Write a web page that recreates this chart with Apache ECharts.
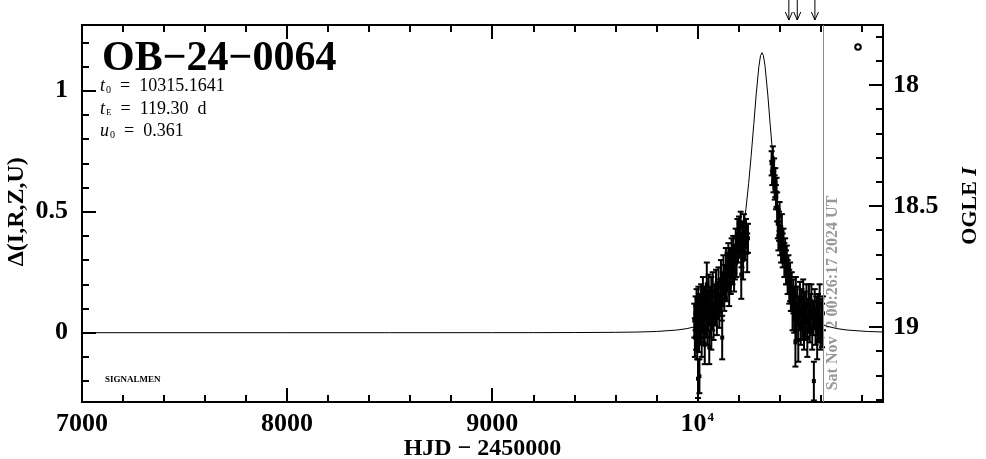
<!DOCTYPE html>
<html><head><meta charset="utf-8">
<script src="https://cdn.jsdelivr.net/npm/echarts@6/dist/echarts.min.js"></script>
<style>html,body{margin:0;padding:0;background:#fff}#c{width:986px;height:459px}</style>
</head><body><div id="c"></div>
<script>
// ---- data ----
const modelT = [7000, 8000, 8500, 9000, 9200, 9400, 9600, 9700, 9800, 9900, 9950, 10000, 10050, 10100, 10150, 10175, 10200, 10225, 10237, 10250, 10262, 10275, 10287, 10300, 10308, 10315, 10322, 10330, 10343, 10355, 10368, 10380, 10393, 10405, 10430, 10455, 10480, 10530, 10580, 10630, 10680, 10730, 10830, 10905];
const modelD = [0, 0, 0.00004, 0.00015, 0.0003, 0.0006, 0.0015, 0.0026, 0.005, 0.011, 0.017, 0.027, 0.045, 0.081, 0.152, 0.213, 0.303, 0.432, 0.513, 0.617, 0.728, 0.861, 0.987, 1.101, 1.145, 1.157, 1.145, 1.101, 0.987, 0.861, 0.728, 0.617, 0.513, 0.432, 0.303, 0.213, 0.152, 0.081, 0.045, 0.027, 0.017, 0.011, 0.005, 0.003];

const obsT = [9985, 9988, 9991, 9994, 9996, 9999, 10001, 10003, 10005, 10008, 10010, 10012, 10015, 10018, 10021, 10024, 10027, 10030, 10033, 10036, 10040, 10043, 10046, 10049, 10052, 10055, 10058, 10061, 10064, 10068, 10072, 10075, 10079, 10083, 10087, 10091, 10095, 10099, 10103, 10107, 10111, 10115, 10119, 10121, 10123, 10127, 10131, 10135, 10139, 10143, 10147, 10151, 10155, 10159, 10163, 10167, 10171, 10175, 10179, 10183, 10187, 10191, 10195, 10199, 10203, 10207, 10211, 10214, 10215, 10219, 10223, 10227, 10232, 10237, 10243, 10247,
  10362, 10365, 10368, 10371, 10374, 10377, 10380, 10383, 10386, 10389, 10392, 10395, 10398, 10401, 10404, 10408, 10412, 10416, 10420, 10424, 10428, 10432, 10436, 10440, 10444, 10448, 10452, 10456, 10460, 10464, 10468, 10472, 10476, 10478, 10480, 10484, 10488, 10492, 10496, 10500, 10504, 10508, 10512, 10516, 10520, 10524, 10528, 10532, 10536, 10540, 10544, 10548, 10552, 10556, 10560, 10564, 10568, 10572, 10576, 10580, 10584, 10588, 10592, 10596, 10600, 10604, 10608, 10612];
const obsD = [0.05, -0.02, 0.08, 0.02, 0.10, -0.04, 0.06, -0.19, 0.12, 0.00, -0.18, 0.09, 0.04, 0.13, -0.02, 0.07, 0.15, 0.03, 0.10, -0.05, 0.12, 0.06, 0.20, 0.02, 0.09, 0.17, -0.06, 0.11, 0.05, 0.08, 0.08, 0.17, 0.04, 0.12, 0.10, 0.18, 0.06, 0.14, 0.19, 0.09, 0.15, 0.22, 0.12, -0.02, 0.18, 0.24, 0.16, 0.21, 0.27, 0.20, 0.25, 0.30, 0.19, 0.28, 0.23, 0.31, 0.27, 0.33, 0.25, 0.29, 0.36, 0.31, 0.40, 0.35, 0.42, 0.38, 0.44, 0.24, 0.34, 0.40, 0.30, 0.43, 0.37, 0.41, 0.33, 0.39,
  0.70, 0.66, 0.72, 0.63, 0.67, 0.60, 0.62, 0.56, 0.58, 0.52, 0.45, 0.40, 0.44, 0.48, 0.38, 0.36, 0.42, 0.34, 0.36, 0.30, 0.31, 0.27, 0.28, 0.23, 0.24, 0.19, 0.21, 0.16, 0.17, 0.10, 0.15, 0.08, 0.12, -0.04, 0.15, 0.04, 0.11, -0.03, 0.08, 0.13, 0.02, 0.10, 0.06, 0.14, 0.00, 0.09, 0.04, 0.12, -0.02, 0.07, 0.11, 0.03, 0.08, 0.13, 0.01, 0.06, -0.20, 0.10, 0.02, 0.07, -0.03, 0.09, 0.04, 0.11, 0.00, 0.06, 0.03, 0.08];
const obsE = [0.07, 0.08, 0.07, 0.09, 0.08, 0.07, 0.08, 0.08, 0.07, 0.08, 0.07, 0.07, 0.09, 0.07, 0.08, 0.07, 0.08, 0.07, 0.09, 0.08, 0.07, 0.08, 0.09, 0.07, 0.08, 0.07, 0.07, 0.08, 0.07, 0.15, 0.07, 0.08, 0.07, 0.08, 0.07, 0.08, 0.07, 0.07, 0.08, 0.07, 0.07, 0.08, 0.07, 0.09, 0.07, 0.08, 0.07, 0.07, 0.08, 0.07, 0.08, 0.07, 0.08, 0.07, 0.07, 0.08, 0.07, 0.07, 0.08, 0.07, 0.07, 0.08, 0.07, 0.06, 0.06, 0.07, 0.06, 0.10, 0.07, 0.06, 0.08, 0.06, 0.07, 0.06, 0.08, 0.06,
  0.05, 0.05, 0.05, 0.05, 0.05, 0.05, 0.06, 0.05, 0.06, 0.06, 0.06, 0.06, 0.06, 0.06, 0.06, 0.07, 0.07, 0.07, 0.07, 0.07, 0.08, 0.07, 0.08, 0.07, 0.08, 0.07, 0.08, 0.07, 0.08, 0.09, 0.07, 0.08, 0.07, 0.10, 0.08, 0.07, 0.08, 0.09, 0.07, 0.08, 0.07, 0.08, 0.09, 0.08, 0.07, 0.08, 0.07, 0.08, 0.08, 0.07, 0.09, 0.07, 0.08, 0.07, 0.08, 0.07, 0.08, 0.08, 0.07, 0.08, 0.08, 0.07, 0.08, 0.09, 0.07, 0.08, 0.09, 0.07];

const arrowT = [10446, 10487, 10573];
const nowT = 10616;
const xMajorLabels = { 7000: '7000', 8000: '8000', 9000: '9000', 10000: '{a|10}{s|4}' };
const leftLabels = { 0: '0', 0.5: '0.5', 1: '1' };
const rightLabels = { 18: '18', 18.5: '18.5', 19: '19' };

// ---- layout ----
const GL = 82, GT = 25, GW = 801, GH = 377;
const Y0 = 332.7, S = 242, I0 = 19.024;
const dMax = (Y0 - GT) / S, dMin = (Y0 - (GT + GH)) / S;
const FONT = '"Liberation Serif", "Times New Roman", serif';
const lab = { fontFamily: FONT, fontWeight: 'bold', fontSize: 26, color: '#000' };

function tickAxis(extra) {
  return Object.assign({
    type: 'value', axisLine: { show: false, onZero: false }, splitLine: { show: false },
    axisTick: { show: true, inside: true, length: 7, lineStyle: { color: '#000', width: 2 } },
    axisLabel: { show: false }, nameMoveOverlap: false
  }, extra);
}
const hidden = (gi) => ({ type: 'value', gridIndex: gi, show: false, min: 0, max: 1, axisLine: { onZero: false } });
const G = (o) => Object.assign({ left: GL, width: GW, containLabel: false, outerBoundsMode: 'none' }, o);

const chart = echarts.init(document.getElementById('c'), null, { renderer: 'canvas' });
const option = {
  animation: false,
  backgroundColor: '#fff',
  grid: [
    G({ top: GT, height: GH, show: true, borderColor: '#000', borderWidth: 2, backgroundColor: 'transparent' }),
    G({ top: Y0 - 1.2 * S, height: 1.4 * S }),
    G({ top: Y0 - 1.0 * S, height: 1.0 * S }),
    G({ top: Y0 - (I0 - 17.8) * S, height: 1.5 * S }),
    G({ top: Y0 - (I0 - 18) * S, height: 1.0 * S }),
    G({ top: 0, height: 20 })
  ],
  xAxis: [
    tickAxis({ gridIndex: 0, position: 'bottom', min: 7000, max: 10905, interval: 1000,
      axisTick: { show: true, inside: true, length: 14, lineStyle: { color: '#000', width: 2 } },
      name: 'HJD − 2450000', nameLocation: 'middle', nameGap: 35,
      nameTextStyle: Object.assign({}, lab, { fontSize: 24 }),
      axisLabel: { show: true, margin: 9, fontFamily: FONT, fontWeight: 'bold', fontSize: 26, color: '#000',
        formatter: v => xMajorLabels[v] || '',
        rich: { a: { fontFamily: FONT, fontWeight: 'bold', fontSize: 26, color: '#000' },
                s: { fontFamily: FONT, fontWeight: 'bold', fontSize: 13, color: '#000', padding: [0, 0, 12, 1] } } } }),
    tickAxis({ gridIndex: 0, position: 'bottom', min: 7000, max: 10905, interval: 200 }),
    tickAxis({ gridIndex: 0, position: 'top', min: 7000, max: 10905, interval: 1000,
      axisTick: { show: true, inside: true, length: 14, lineStyle: { color: '#000', width: 2 } } }),
    tickAxis({ gridIndex: 0, position: 'top', min: 7000, max: 10905, interval: 200 }),
    hidden(1), hidden(2), hidden(3), hidden(4),
    { type: 'value', gridIndex: 5, show: false, min: 7000, max: 10905, axisLine: { onZero: false } }
  ],
  yAxis: [
    { type: 'value', gridIndex: 0, min: dMin, max: dMax, show: false, axisLine: { onZero: false } },
    tickAxis({ gridIndex: 1, position: 'left', min: -0.2, max: 1.2, interval: 0.1 }),
    tickAxis({ gridIndex: 2, position: 'left', min: 0, max: 1, interval: 0.5,
      axisTick: { show: true, inside: true, length: 14, lineStyle: { color: '#000', width: 2 } },
      name: 'Δ(I,R,Z,U)', nameLocation: 'middle', nameRotate: 90, nameGap: 53,
      nameTextStyle: Object.assign({}, lab, { fontSize: 24 }),
      axisLabel: Object.assign({ show: true, margin: 14, formatter: v => leftLabels[v] !== undefined ? leftLabels[v] : '' }, lab) }),
    tickAxis({ gridIndex: 3, position: 'right', inverse: true, min: 17.8, max: 19.3, interval: 0.1 }),
    tickAxis({ gridIndex: 4, position: 'right', inverse: true, min: 18, max: 19, interval: 0.5,
      axisTick: { show: true, inside: true, length: 14, lineStyle: { color: '#000', width: 2 } },
      name: 'OGLE {i|I}', nameLocation: 'middle', nameRotate: 90, nameGap: 76,
      nameTextStyle: Object.assign({}, lab, { fontSize: 22, rich: { i: Object.assign({}, lab, { fontSize: 22, fontStyle: 'italic' }) } }),
      axisLabel: Object.assign({ show: true, margin: 10, formatter: v => rightLabels[v] !== undefined ? rightLabels[v] : '' }, lab) }),
    { type: 'value', gridIndex: 5, show: false, min: 0, max: 1, axisLine: { onZero: false } }
  ],
  series: [
    {
      type: 'line', xAxisIndex: 0, yAxisIndex: 0, showSymbol: false, symbol: 'none', silent: true,
      lineStyle: { color: '#000', width: 1 }, clip: true,
      data: modelT.map((t, i) => [t, modelD[i]]),
      markLine: { symbol: 'none', silent: true, label: { show: false },
        lineStyle: { color: '#8c8c8c', width: 1, type: 'solid' }, data: [{ xAxis: nowT }] }
    },
    {
      type: 'custom', xAxisIndex: 0, yAxisIndex: 0, silent: true, clip: true,
      data: obsT.map((t, i) => [t, obsD[i] - obsE[i], obsD[i] + obsE[i], obsD[i]]),
      renderItem: function (params, api) {
        const lo = api.coord([api.value(0), api.value(1)]);
        const hi = api.coord([api.value(0), api.value(2)]);
        const c = api.coord([api.value(0), api.value(3)]);
        const st = { stroke: '#000', lineWidth: 2 };
        return { type: 'group', children: [
          { type: 'line', shape: { x1: lo[0], y1: lo[1], x2: hi[0], y2: hi[1] }, style: st },
          { type: 'line', shape: { x1: lo[0] - 3, y1: lo[1], x2: lo[0] + 3, y2: lo[1] }, style: st },
          { type: 'line', shape: { x1: hi[0] - 3, y1: hi[1], x2: hi[0] + 3, y2: hi[1] }, style: st },
          { type: 'rect', shape: { x: c[0] - 2, y: c[1] - 2, width: 4, height: 4 }, style: { fill: '#000' } }
        ] };
      }
    },
    {
      type: 'custom', xAxisIndex: 8, yAxisIndex: 5, silent: true,
      data: arrowT.map(t => [t]),
      renderItem: function (params, api) {
        const top = api.coord([api.value(0), 1]);
        const bot = api.coord([api.value(0), 0]);
        const st = { stroke: '#000', lineWidth: 1, fill: null };
        return { type: 'group', children: [
          { type: 'line', shape: { x1: top[0], y1: top[1], x2: bot[0], y2: bot[1] }, style: st },
          { type: 'polyline', shape: { points: [[bot[0] - 3.5, bot[1] - 8], [bot[0], bot[1]], [bot[0] + 3.5, bot[1] - 8]] }, style: st }
        ] };
      }
    }
  ],
  graphic: [
    { type: 'text', left: 102, top: 38, style: { text: 'OB−24−0064', font: 'bold 42px ' + FONT, fill: '#000' } },
    { type: 'text', left: 100, top: 77, style: { text: '{i|t}{s|0}  =  10315.1641', font: '18px ' + FONT, fill: '#000',
        rich: { i: { font: 'italic 18px ' + FONT }, s: { font: '10px ' + FONT, padding: [8, 0, 0, 1] } } } },
    { type: 'text', left: 100, top: 100, style: { text: '{i|t}{s|E}  =  119.30  d', font: '18px ' + FONT, fill: '#000',
        rich: { i: { font: 'italic 18px ' + FONT }, s: { font: '9px ' + FONT, padding: [8, 0, 0, 1] } } } },
    { type: 'text', left: 100, top: 122, style: { text: '{i|u}{s|0}  =  0.361', font: '18px ' + FONT, fill: '#000',
        rich: { i: { font: 'italic 18px ' + FONT }, s: { font: '10px ' + FONT, padding: [8, 0, 0, 1] } } } },
    { type: 'text', left: 105, top: 375, style: { text: 'SIGNALMEN', font: 'bold 9px ' + FONT, fill: '#000' } },
    { type: 'circle', shape: { cx: 858, cy: 47, r: 2.8 }, style: { stroke: '#000', lineWidth: 2, fill: '#fff' } },
    { type: 'text', x: 833, y: 293, rotation: Math.PI / 2,
      style: { text: 'Sat Nov  2 00:26:17 2024 UT', font: 'bold 16px ' + FONT, fill: '#999', textAlign: 'center', textVerticalAlign: 'middle' } }
  ]
};
chart.setOption(option);
</script>
</body></html>
